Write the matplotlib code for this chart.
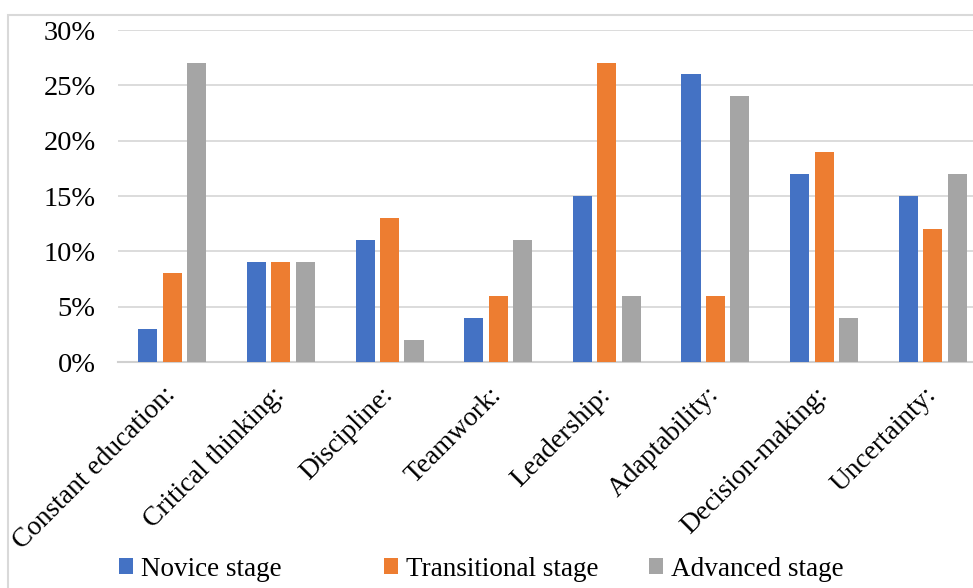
import numpy as np
import matplotlib.pyplot as plt
from matplotlib.patches import Rectangle

categories = ['Constant education:', 'Critical thinking:', 'Discipline:', 'Teamwork:',
              'Leadership:', 'Adaptability:', 'Decision-making:', 'Uncertainty:']
novice = [3, 9, 11, 4, 15, 26, 17, 15]
transitional = [8, 9, 13, 6, 27, 6, 19, 12]
advanced = [27, 9, 2, 11, 6, 24, 4, 17]
series_names = ['Novice stage', 'Transitional stage', 'Advanced stage']
yticks = [0, 5, 10, 15, 20, 25, 30]

plt.rcParams['font.family'] = ['Liberation Serif', 'DejaVu Serif']

fig = plt.figure(figsize=(9.73, 5.88), dpi=100)
fig.patches.append(Rectangle((8 / 973, -0.1), 1.1, (588 - 15) / 588 + 0.1,
                             transform=fig.transFigure, fill=False,
                             edgecolor='#D9D9D9', linewidth=1.5))

ax = fig.add_axes([118 / 973, (588 - 362) / 588, 869 / 973, 332 / 588])
x = np.arange(len(categories))
w = 0.175
step = 0.225
colors = ['#4472C4', '#ED7D31', '#A5A5A5']
bars = []
for i, vals in enumerate([novice, transitional, advanced]):
    bars.append(ax.bar(x + (i - 1) * step, vals, w, color=colors[i], zorder=3))

ax.set_xlim(-0.5, len(categories) - 0.5)
ax.set_ylim(0, 30)
ax.set_yticks(yticks)
ax.set_yticklabels([f'{t}%' for t in yticks], fontsize=20.5)
ax.set_xticks(x)
ax.set_xticklabels(categories, fontsize=19.7, rotation=45, ha='right', va='center',
                   rotation_mode='anchor')
ax.tick_params(axis='both', length=0)
ax.tick_params(axis='y', pad=16)
ax.tick_params(axis='x', pad=21)
ax.grid(axis='y', color='#D9D9D9', linewidth=1.3, zorder=0)
for s in ['top', 'right', 'left']:
    ax.spines[s].set_visible(False)
ax.spines['bottom'].set_color('#D0D0D0')
ax.spines['bottom'].set_linewidth(1.5)

# Excel-style legend: entries evenly spaced along the bottom
for i, name in enumerate(series_names):
    fig.legend([bars[i]], [name], loc='center left',
               bbox_to_anchor=((119 + 265 * i) / 973, 1 - 569 / 588),
               frameon=False, fontsize=19.5, handlelength=0.52, handleheight=0.52,
               handletextpad=0.3, borderpad=0, borderaxespad=0)

fig.savefig('out.png', dpi=100)
